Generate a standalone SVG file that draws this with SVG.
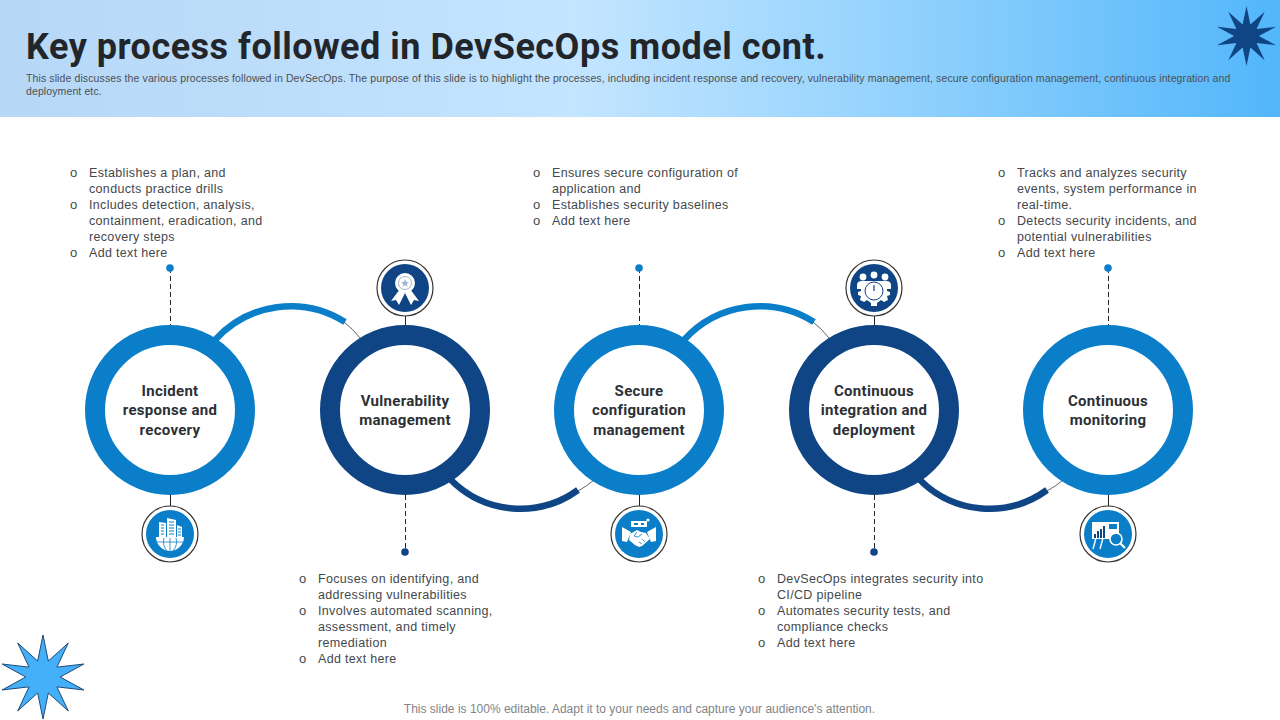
<svg xmlns="http://www.w3.org/2000/svg" width="1280" height="720" viewBox="0 0 1280 720">
<style>
.ring{fill:#fff;stroke-width:20}
.blue{stroke:#0a7ec8}.navy{stroke:#0f4585}
.arc{fill:none;stroke-width:6.5}
.thin{fill:none;stroke:#333a40;stroke-width:.8}
.stem{stroke:#222;stroke-width:1;fill:none;shape-rendering:crispEdges}
.dash{stroke:#222;stroke-width:1;stroke-dasharray:5 3;fill:none;shape-rendering:crispEdges}
.halo{fill:#fff;stroke:#3a3230;stroke-width:1.2}
.t{font-family:"Roboto","Liberation Sans",sans-serif;font-weight:700;font-size:15px;letter-spacing:.3px;fill:#2c3036;text-anchor:middle}
.b{font-family:"Liberation Sans",Arial,sans-serif;font-size:12.5px;letter-spacing:.33px;fill:#43484d}
.bu{font-family:"Liberation Sans",Arial,sans-serif;font-size:13px;fill:#43484d}
.w{fill:#fff}
</style>
<defs>
<linearGradient id="hdr" x1="0" x2="1" y1="0" y2="0">
<stop offset="0" stop-color="#b6d7f6"/><stop offset=".45" stop-color="#c3e5ff"/><stop offset=".7" stop-color="#93d2fd"/><stop offset="1" stop-color="#52b6fb"/>
</linearGradient>
<polygon id="star" vector-effect="non-scaling-stroke" points="0,-100 12.4,-38 58.8,-80.9 32.4,-23.5 95.1,-30.9 40,0 95.1,30.9 32.4,23.5 58.8,80.9 12.4,38 0,100 -12.4,38 -58.8,80.9 -32.4,23.5 -95.1,30.9 -40,0 -95.1,-30.9 -32.4,-23.5 -58.8,-80.9 -12.4,-38"/>
</defs>
<rect width="1280" height="720" fill="#fff"/>
<rect id="header" width="1280" height="117" fill="url(#hdr)"/>
<text x="26" y="59" font-family="Roboto,'Liberation Sans',sans-serif" font-weight="700" font-size="36" letter-spacing=".5" fill="#22262b">Key process followed in DevSecOps model cont.</text>
<g font-family="'Liberation Sans',Arial,sans-serif" font-size="10.5" letter-spacing=".11" fill="#4a5056">
<text x="26" y="82">This slide discusses the various processes followed in DevSecOps. The purpose of this slide is to highlight the processes, including incident response and recovery, vulnerability management, secure configuration management, continuous integration and</text>
<text x="26" y="95">deployment etc.</text>
</g>
<use id="star-top" href="#star" transform="translate(1246.5,36) scale(.31,.3)" fill="#0f4585"/>
<use id="star-bottom" href="#star" transform="translate(43,677) scale(.43,.42)" fill="#45b0fa" stroke="#1f4a78" stroke-width="1"/>

<g id="connectors">
<path class="arc blue" d="M215 340A102 102 0 0 1 345 322"/>
<path class="thin" d="M344 322Q353 329 360 338"/>
<path class="arc navy" d="M451 480A98 98 0 0 0 578 490"/>
<path class="thin" d="M578 491Q587 486 594 480"/>
<path class="arc blue" d="M684 340A102 102 0 0 1 814 322"/>
<path class="thin" d="M813 322Q822 329 829 338"/>
<path class="arc navy" d="M920 480A98 98 0 0 0 1047 490"/>
<path class="thin" d="M1047 491Q1056 486 1063 480"/>
<path class="dash" d="M170 268V325M639 268V325M1108 268V325M405 495V552M874 495V552"/>
<path class="stem" d="M170 495V506M639 495V506M1108 495V506M405 315V325M874 315V325"/>
<circle cx="170" cy="268" r="3.8" fill="#0a7ec8"/>
<circle cx="639" cy="268" r="3.8" fill="#0a7ec8"/>
<circle cx="1108" cy="268" r="3.8" fill="#0a7ec8"/>
<circle cx="405" cy="552" r="3.8" fill="#0f4585"/>
<circle cx="874" cy="552" r="3.8" fill="#0f4585"/>
</g>

<g id="node-incident">
<circle class="ring blue" cx="170" cy="410" r="75"/>
<text class="t"><tspan x="170" y="396">Incident</tspan><tspan x="170" y="415">response and</tspan><tspan x="170" y="435">recovery</tspan></text>
<circle class="halo" cx="170" cy="534" r="28"/><circle cx="170" cy="534" r="24" fill="#0a7ec8"/>
<g transform="translate(170,534)" class="w">
<path d="M-11 -12L-4 -11V3H-11ZM-3 -16L6 -14V3H-3ZM7 -9L12 -7V3H7Z"/>
<path d="M-14 3H14C14 11 7 17 0 17C-7 17 -14 11 -14 3Z"/>
<path d="M-13 8H13M0 4V17M-6 4Q-8 11 -3 17M6 4Q8 11 3 17" stroke="#0a7ec8" stroke-width=".8" fill="none"/>
<path d="M-9 -9H-6M-9 -6H-6M-9 -3H-6M-9 0H-6M-1 -12H4M-1 -9H4M-1 -6H4M-1 -3H4M-1 0H4M8 -5H11M8 -2H11M8 1H11" stroke="#0a7ec8" stroke-width="1" fill="none"/>
</g>
<g class="b">
<text x="70" y="177" class="bu">o</text><text x="89" y="177">Establishes a plan, and</text><text x="89" y="193">conducts practice drills</text>
<text x="70" y="209" class="bu">o</text><text x="89" y="209">Includes detection, analysis,</text><text x="89" y="225">containment, eradication, and</text><text x="89" y="241">recovery steps</text>
<text x="70" y="257" class="bu">o</text><text x="89" y="257">Add text here</text>
</g>
</g>

<g id="node-vulnerability">
<circle class="ring navy" cx="405" cy="410" r="75"/>
<text class="t"><tspan x="405" y="406">Vulnerability</tspan><tspan x="405" y="425">management</tspan></text>
<circle class="halo" cx="405" cy="288" r="28"/><circle cx="405" cy="288" r="24" fill="#0f4585"/>
<g transform="translate(405,288)">
<path class="w" d="M-5 1L-14 13L-9 12L-6 17L0 5ZM5 1L14 13L9 12L6 17L0 5Z"/>
<circle cy="-5" r="10" class="w"/>
<circle cy="-5" r="6.5" fill="none" stroke="#9fb6d0" stroke-width="1"/>
<polygon fill="#9fb6d0" points="0,-9 1.2,-6 4,-6 1.8,-4 2.5,-1 0,-3 -2.5,-1 -1.8,-4 -4,-6 -1.2,-6"/>
</g>
<g class="b">
<text x="299" y="583" class="bu">o</text><text x="318" y="583">Focuses on identifying, and</text><text x="318" y="599">addressing vulnerabilities</text>
<text x="299" y="615" class="bu">o</text><text x="318" y="615">Involves automated scanning,</text><text x="318" y="631">assessment, and timely</text><text x="318" y="647">remediation</text>
<text x="299" y="663" class="bu">o</text><text x="318" y="663">Add text here</text>
</g>
</g>

<g id="node-secure">
<circle class="ring blue" cx="639" cy="410" r="75"/>
<text class="t"><tspan x="639" y="396">Secure</tspan><tspan x="639" y="415">configuration</tspan><tspan x="639" y="435">management</tspan></text>
<circle class="halo" cx="639" cy="534" r="28"/><circle cx="639" cy="534" r="24" fill="#0a7ec8"/>
<g transform="translate(639,534)">
<path class="w" d="M-17 -7L-8 -2L-12 8L-17 7ZM17 -7L8 -2L12 8L17 7Z"/>
<path class="w" d="M-9 0L-2 -4L2 -2L7 -1L11 5L3 12L0 13L-4 11L-10 6Z"/>
<path d="M-2 -2L-5 2L-1 3L3 0M0 8L3 10M3 5L6 8" stroke="#0a7ec8" stroke-width=".8" fill="none"/>
<rect class="w" x="-8" y="-13" width="16" height="6"/>
<path d="M-5 -10H-1M2 -10H5" stroke="#0a7ec8" stroke-width="2" fill="none"/>
<circle class="w" cx="9" cy="-14" r="1.6"/>
</g>
<g class="b">
<text x="533" y="177" class="bu">o</text><text x="552" y="177">Ensures secure configuration of</text><text x="552" y="193">application and</text>
<text x="533" y="209" class="bu">o</text><text x="552" y="209">Establishes security baselines</text>
<text x="533" y="225" class="bu">o</text><text x="552" y="225">Add text here</text>
</g>
</g>

<g id="node-integration">
<circle class="ring navy" cx="874" cy="410" r="75"/>
<text class="t"><tspan x="874" y="396">Continuous</tspan><tspan x="874" y="415">integration and</tspan><tspan x="874" y="435">deployment</tspan></text>
<circle class="halo" cx="874" cy="288" r="28"/><circle cx="874" cy="288" r="24" fill="#0f4585"/>
<g transform="translate(874,288)">
<circle class="w" cx="-11" cy="-11" r="3.4"/><circle class="w" cx="0" cy="-13" r="3.4"/><circle class="w" cx="11" cy="-11" r="3.4"/>
<path class="w" d="M-17 1V-3Q-17 -7 -12 -7H12Q17 -7 17 -3V1Z"/>
<path class="w" d="M-13 3L-16 4V7L-13 8L-14 12L-10 14L-7 12L-3 15V18H3V15L7 12L10 14L14 12L13 8L16 7V4L13 3V0H-13Z"/>
<circle cy="3" r="9" fill="none" stroke="#0f4585" stroke-width="1"/>
<path d="M0 -3V3" stroke="#0f4585" stroke-width="1.2"/>
</g>
<g class="b">
<text x="758" y="583" class="bu">o</text><text x="777" y="583">DevSecOps integrates security into</text><text x="777" y="599">CI/CD pipeline</text>
<text x="758" y="615" class="bu">o</text><text x="777" y="615">Automates security tests, and</text><text x="777" y="631">compliance checks</text>
<text x="758" y="647" class="bu">o</text><text x="777" y="647">Add text here</text>
</g>
</g>

<g id="node-monitoring">
<circle class="ring blue" cx="1108" cy="410" r="75"/>
<text class="t"><tspan x="1108" y="406">Continuous</tspan><tspan x="1108" y="425">monitoring</tspan></text>
<circle class="halo" cx="1108" cy="534" r="28"/><circle cx="1108" cy="534" r="24" fill="#0a7ec8"/>
<g transform="translate(1108,534)">
<rect class="w" x="-16" y="-12" width="27" height="17"/>
<path d="M-12 4L-15 15M-5 4L-8 15M4 4L6 9" stroke="#fff" stroke-width="1.4" fill="none"/>
<path d="M-13 4V0M-10 4V-3M-7 4V-5M-4 4V-8" stroke="#0f4585" stroke-width="2" fill="none"/>
<rect x="1" y="-10" width="8" height="5" fill="#0a7ec8"/>
<circle cx="8" cy="5" r="6" fill="#0a7ec8" stroke="#fff" stroke-width="1.6"/>
<path d="M12 9L17 14" stroke="#fff" stroke-width="2.2"/>
</g>
<g class="b">
<text x="998" y="177" class="bu">o</text><text x="1017" y="177">Tracks and analyzes security</text><text x="1017" y="193">events, system performance in</text><text x="1017" y="209">real-time.</text>
<text x="998" y="225" class="bu">o</text><text x="1017" y="225">Detects security incidents, and</text><text x="1017" y="241">potential vulnerabilities</text>
<text x="998" y="257" class="bu">o</text><text x="1017" y="257">Add text here</text>
</g>
</g>

<text x="639.5" y="713" text-anchor="middle" font-family="'Liberation Sans',Arial,sans-serif" font-size="12" fill="#7f8489">This slide is 100% editable. Adapt it to your needs and capture your audience's attention.</text>
</svg>
